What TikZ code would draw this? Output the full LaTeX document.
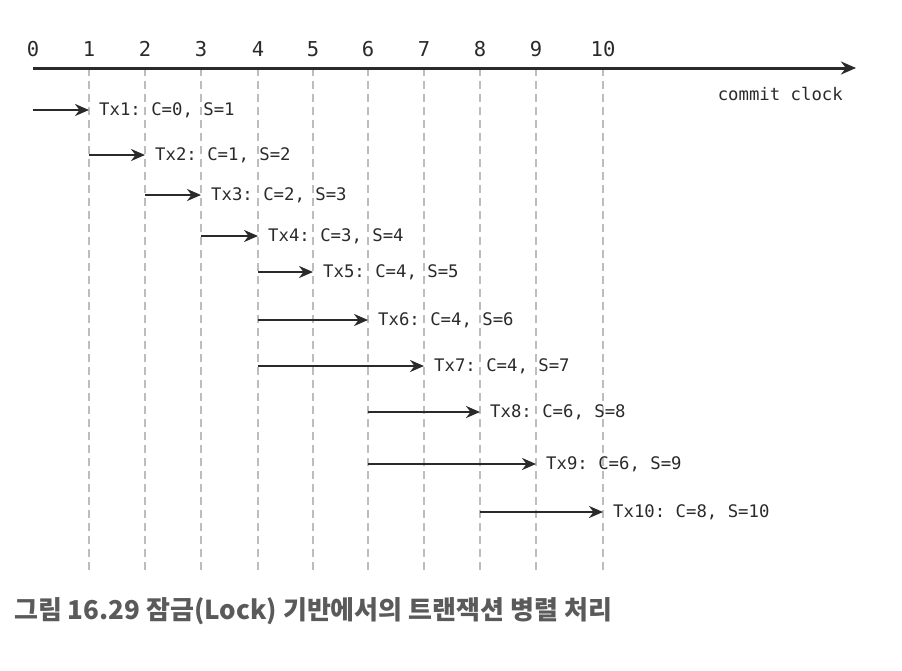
\documentclass[tikz,border=0pt]{standalone}
\usepackage{fontspec}
\setmonofont{DejaVu Sans Mono}
\newfontfamily\krfont{Noto Sans CJK KR}
\usetikzlibrary{arrows.meta,calc}
\definecolor{ink}{HTML}{2A2A2A}
\definecolor{grid}{HTML}{BDBDBD}
\definecolor{captiongray}{HTML}{5A5A5A}
\tikzset{
  gridline/.style={grid, line width=1.5pt, dash pattern=on 8pt off 5pt},
  axisline/.style={ink, line width=3pt, -{Stealth[length=15pt,width=13pt]}},
  txarrow/.style={ink, line width=2.6pt, -{Stealth[length=14pt,width=12pt]}},
  txlabel/.style={anchor=west, inner sep=0pt, xshift=10pt, text=ink, font=\ttfamily\fontsize{17.3}{19}\selectfont},
  ticklabel/.style={inner sep=0pt, text=ink, font=\ttfamily\fontsize{20.5}{22}\selectfont},
}
\begin{document}
\begin{tikzpicture}[x=1pt,y=-1pt]
\useasboundingbox (0,0) rectangle (902,670);
% tick positions
\foreach \i/\x in {0/33,1/89,2/145,3/201,4/258,5/313,6/368,7/424,8/480,9/536,10/603}{
  \coordinate (t\i) at (\x,68);
  \coordinate (b\i) at (\x,572);
  \node[ticklabel] (n\i) at (\x,49) {\i};
}
\foreach \i in {1,...,10}{
  \draw[gridline] (t\i) -- (b\i);
}
\coordinate (axend) at (856,68);
\draw[axisline] (t0) -- (axend);
\node[anchor=east, inner sep=0pt, text=ink, font=\ttfamily\fontsize{17.3}{19}\selectfont] (cc) at (843,94) {commit clock};
% transactions: name / start tick / end tick / y
\foreach \n/\c/\s/\y in {1/0/1/110, 2/1/2/155, 3/2/3/195, 4/3/4/236, 5/4/5/272, 6/4/6/320, 7/4/7/366, 8/6/8/412, 9/6/9/464, 10/8/10/512}{
  \coordinate (s\n) at ($(t\c)+(0,\y-68)$);
  \coordinate (e\n) at ($(t\s)+(0,\y-68)$);
  \draw[txarrow] (s\n) -- (e\n);
  \node[txlabel] (l\n) at (e\n) {Tx\n: C=\c, S=\s};
}
\node[anchor=west, inner sep=0pt, text=captiongray, font=\krfont\bfseries\fontsize{26}{28}\selectfont] (cap) at (14,611) {그림 16.29 잠금(Lock) 기반에서의 트랜잭션 병렬 처리};
\end{tikzpicture}
\end{document}
